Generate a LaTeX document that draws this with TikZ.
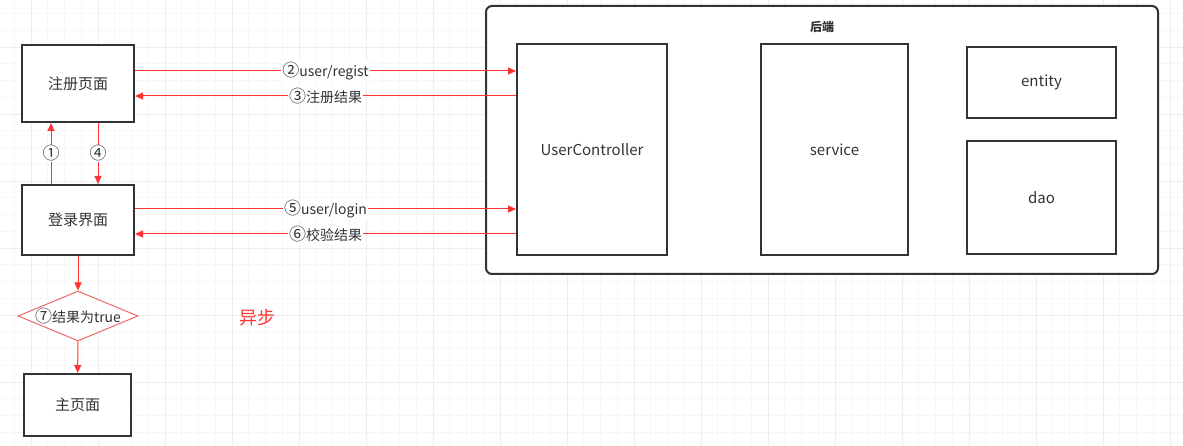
\documentclass[tikz,border=0pt]{standalone}
\usepackage{fontspec}
\setmainfont{Noto Sans CJK SC}
\usetikzlibrary{calc,shapes.geometric,arrows.meta}

\definecolor{linered}{HTML}{FF3333}
\definecolor{boxgray}{HTML}{333333}
\definecolor{diamred}{HTML}{EA6B66}

\newcommand{\cnum}[1]{{\fontsize{17}{16}\selectfont #1}}

\tikzset{
	box/.style={draw=boxgray, line width=2pt, fill=white, text=boxgray, inner sep=0pt, font=\fontsize{15}{17}\selectfont},
	msg/.style={draw=linered, line width=1pt, -{Triangle[length=8pt,width=7pt]}},
	lbl/.style={fill=white, inner sep=1pt, text=boxgray, font=\fontsize{14}{16}\selectfont},
	gridminor/.style={draw=black!3, line width=0.6pt},
	gridmajor/.style={draw=black!7, line width=0.8pt}
}

\begin{document}
\begin{tikzpicture}[x=1pt, y=-1pt]
			%%%%% START %%%%%
			\useasboundingbox (0,0) rectangle (1183,446);
			\fill[white] (0,0) rectangle (1183,446);
			
			\foreach \i in {0,...,70} {\draw[gridminor] ({14.25+16.75*\i},0) -- ++(0,446);}
			\foreach \i in {0,...,26} {\draw[gridminor] (0,{13.5+16.75*\i}) -- ++(1183,0);}
			\foreach \i in {0,...,17} {\draw[gridmajor] ({31+67*\i},0) -- ++(0,446);}
			\foreach \i in {0,...,6} {\draw[gridmajor] (0,{47+67*\i}) -- ++(1183,0);}
			
			\node[box, minimum width=672pt, minimum height=268pt, rounded corners=6pt] (back) at (822,140) {};
			\node[text=boxgray, font=\fontsize{12}{14}\selectfont\bfseries] (backtitle) at (822,27) {后端};
			
			\node[box, minimum width=150pt, minimum height=211pt] (ctl) at (592,149.5) {UserController};
			\node[box, minimum width=147pt, minimum height=211pt] (svc) at (834.5,149.5) {service};
			\node[box, minimum width=149pt, minimum height=71pt] (ent) at (1041.5,82.5) {entity};
			\node[box, minimum width=149pt, minimum height=113pt] (dao) at (1041.5,197.5) {dao};
			
			\node[box, minimum width=112pt, minimum height=77pt] (reg) at (78,83.5) {注册页面};
			\node[box, minimum width=112pt, minimum height=70pt] (login) at (78,220) {登录界面};
			\node[diamond, draw=diamred, line width=1pt, fill=white, minimum width=120pt, minimum height=50pt, inner sep=0pt,
				label={[lbl, fill=none]center:\cnum{⑦}结果为true}] (check) at (78,316) {};
			\node[box, minimum width=107pt, minimum height=62pt] (home) at (77.5,405) {主页面};
			
			\node[text=linered, font=\fontsize{18}{20}\selectfont] (async) at (257,318) {异步};
			
			\draw[msg] ([yshift=12.5pt]reg.east) -- ([yshift=12.5pt]reg.east -| ctl.west) node[midway, lbl] {\cnum{②}user/regist};
			\draw[msg] ([yshift=-12.5pt]reg.east -| ctl.west) -- ([yshift=-12.5pt]reg.east) node[midway, lbl] {\cnum{③}注册结果};
			\draw[msg] ([yshift=11pt]login.east) -- ([yshift=11pt]login.east -| ctl.west) node[midway, lbl] {\cnum{⑤}user/login};
			\draw[msg] ([yshift=-14pt]login.east -| ctl.west) -- ([yshift=-14pt]login.east) node[midway, lbl] {\cnum{⑥}校验结果};
			
			\draw[msg] ([xshift=-27pt]login.north) -- ([xshift=-27pt]reg.south) node[midway, lbl] {\cnum{①}};
			\draw[msg] ([xshift=20pt]reg.south) -- ([xshift=20pt]login.north) node[midway, lbl] {\cnum{④}};
			
			\draw[msg] (login) -- (check);
			\draw[msg] (check) -- (home);
			
			%%%%% END %%%%%
\end{tikzpicture}
\end{document}
